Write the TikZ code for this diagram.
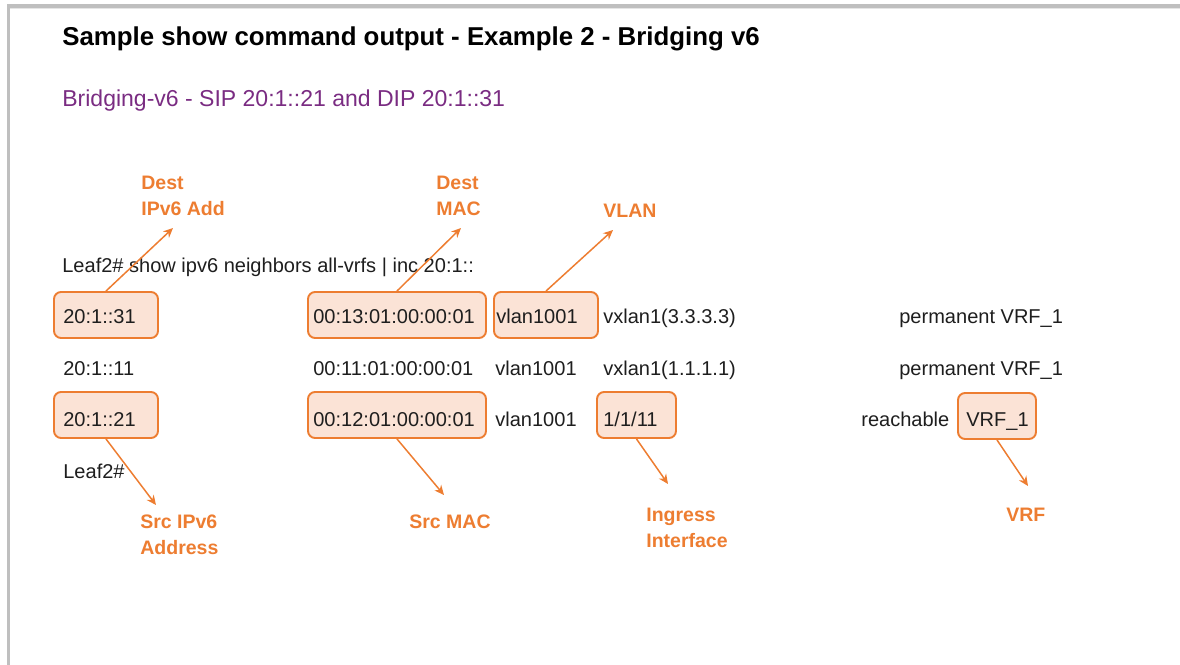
\documentclass[tikz,border=0pt]{standalone}
\usepackage{fontspec}
\setmainfont{Liberation Sans}
\usepackage{tikz}
\usetikzlibrary{positioning,fit,arrows.meta}
\definecolor{hpeorange}{RGB}{237,125,49}
\definecolor{hlfill}{RGB}{251,227,214}
\definecolor{subpurple}{RGB}{122,44,130}
\definecolor{ink}{RGB}{30,30,30}
\definecolor{framegray}{RGB}{191,191,191}
\tikzset{
	cli/.style = {font=\fontsize{11.4}{13.7}\selectfont, text=ink, inner sep=0pt, anchor=base west},
	callout/.style = {font=\bfseries\fontsize{11.1}{13.3}\selectfont, text=hpeorange, inner sep=0pt, anchor=base west},
	hlbox/.style = {draw=hpeorange, fill=hlfill, line width=1.1pt, rounded corners=4pt, inner sep=0pt},
	pointer/.style = {draw=hpeorange, line width=0.85pt, -{Stealth[length=5.5pt, width=5pt]}}
}

\begin{document}
\begin{tikzpicture}[x=0.02cm, y=-0.02cm]

					\useasboundingbox (0,0) rectangle (1180,665);
					\fill[framegray] (7,4) rectangle (1180,8);
					\fill[framegray!40] (10,8) rectangle (1180,9.5);
					\fill[framegray] (7,4) rectangle (10,665);

					\node[font=\bfseries\fontsize{14.7}{17}\selectfont, inner sep=0pt, anchor=base west] (title) at (62,46) {Sample show command output - Example 2 - Bridging v6};
					\node[font=\fontsize{13.1}{15.7}\selectfont, text=subpurple, inner sep=0pt, anchor=base west] (subtitle) at (62,107) {Bridging-v6 - SIP 20:1::21 and DIP 20:1::31};

					\node[hlbox, fit={(54,292) (158,338)}] (dipbox) {};
					\node[hlbox, fit={(308,292) (486,338)}] (dmacbox) {};
					\node[hlbox, fit={(494,292) (598,338)}] (vlanbox) {};
					\node[hlbox, fit={(54,392) (158,438)}] (sipbox) {};
					\node[hlbox, fit={(308,392) (486,438)}] (smacbox) {};
					\node[hlbox, fit={(597,392) (676,438)}] (portbox) {};
					\node[hlbox, fit={(958,393) (1036,439)}] (vrfbox) {};

					\node[cli] (cmd) at (62,272.5) {Leaf2\# show ipv6 neighbors all-vrfs | inc 20:1::};

					\node[cli] (ipa) at (63,324) {20:1::31};
					\node[cli] (maca) at (313,324) {00:13:01:00:00:01};
					\node[cli] (vlana) at (496,324) {vlan1001};
					\node[cli] (porta) at (603,324) {vxlan1(3.3.3.3)};
					\node[cli] (statea) at (899,324) {permanent VRF\_1};

					\node[cli] (ipb) at (63,375.5) {20:1::11};
					\node[cli] (macb) at (313,375.5) {00:11:01:00:00:01};
					\node[cli] (vlanb) at (495,375.5) {vlan1001};
					\node[cli] (portb) at (603,375.5) {vxlan1(1.1.1.1)};
					\node[cli] (stateb) at (899,375.5) {permanent VRF\_1};

					\node[cli] (ipc) at (63,427) {20:1::21};
					\node[cli] (macc) at (313,427) {00:12:01:00:00:01};
					\node[cli] (vlanc) at (495,427) {vlan1001};
					\node[cli] (portc) at (603,427) {1/1/11};
					\node[cli] (statec) at (861,427) {reachable};
					\node[cli] (vrfc) at (966,427) {VRF\_1};

					\node[cli] (prompt) at (63,478.5) {Leaf2\#};

					\node[callout] (diplbla) at (141,190) {Dest};
					\node[callout] (diplblb) at (141,215.5) {IPv6 Add};
					\node[callout] (dmaclbla) at (436,190) {Dest};
					\node[callout] (dmaclblb) at (436,215.5) {MAC};
					\node[callout] (vlanlbl) at (603,218) {VLAN};
					\node[callout] (siplbla) at (140,528) {Src IPv6};
					\node[callout] (siplblb) at (140,554) {Address};
					\node[callout] (smaclbl) at (409,528) {Src MAC};
					\node[callout] (portlbla) at (646,521) {Ingress};
					\node[callout] (portlblb) at (646,547) {Interface};
					\node[callout] (vrflbl) at (1006,521) {VRF};

					\coordinate (diptip) at (173,228);
					\coordinate (dmactip) at (461,228);
					\coordinate (vlantip) at (613,230);
					\coordinate (siptip) at (156,505);
					\coordinate (smactip) at (444,495);
					\coordinate (porttip) at (668,484);
					\coordinate (vrftip) at (1028,486);

					\draw[pointer] (dipbox.north) -- (diptip);
					\draw[pointer] (dmacbox.north) -- (dmactip);
					\draw[pointer] (vlanbox.north) -- (vlantip);
					\draw[pointer] (sipbox.south) -- (siptip);
					\draw[pointer] (smacbox.south) -- (smactip);
					\draw[pointer] (portbox.south) -- (porttip);
					\draw[pointer] (vrfbox.south) -- (vrftip);

\end{tikzpicture}
\end{document}
